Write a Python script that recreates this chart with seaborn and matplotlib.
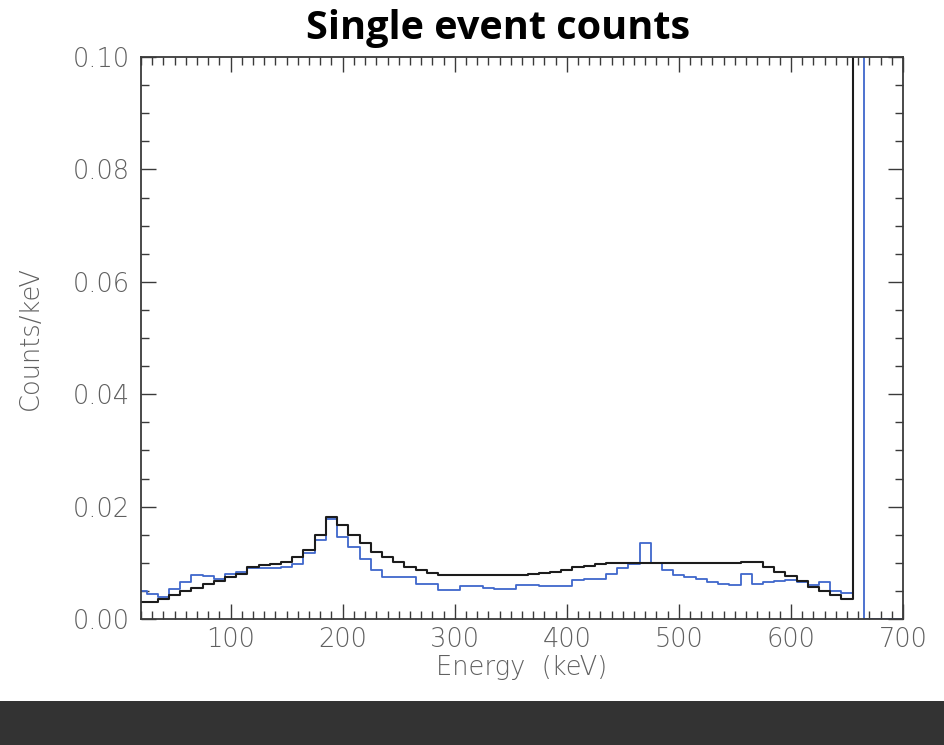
import numpy as np
import pandas as pd
import matplotlib
matplotlib.use("Agg")
import matplotlib.pyplot as plt
from matplotlib.ticker import MultipleLocator, FormatStrFormatter
from matplotlib.patches import Rectangle
import seaborn as sns

# Spectrum binning (keV): 10 keV bins centred on multiples of 10
bin_width = 10
black_centers = np.arange(20, 661, 10)
blue_centers = np.arange(20, 701, 10)

# Counts/keV per bin, first spectrum (dark curve); the 660 keV bin is off-scale
black_counts = [
    0.0030, 0.0030, 0.0035, 0.0043, 0.0049, 0.0055, 0.0062, 0.0068, 0.0074, 0.0080,
    0.0093, 0.0096, 0.0098, 0.0102, 0.0110, 0.0122, 0.0150, 0.0182, 0.0167, 0.0150,
    0.0135, 0.0120, 0.0110, 0.0101, 0.0093, 0.0087, 0.0081, 0.0078, 0.0078, 0.0078,
    0.0078, 0.0078, 0.0078, 0.0079, 0.0079, 0.0080, 0.0082, 0.0084, 0.0087, 0.0092,
    0.0095, 0.0097, 0.0099, 0.0100, 0.0100, 0.0100, 0.0100, 0.0100, 0.0100, 0.0100,
    0.0100, 0.0100, 0.0100, 0.0100, 0.0101, 0.0101, 0.0093, 0.0084, 0.0077, 0.0068,
    0.0057, 0.0049, 0.0043, 0.0036, 0.2500,
]

# Counts/keV per bin, second spectrum (blue curve)
blue_counts = [
    0.0050, 0.0044, 0.0040, 0.0053, 0.0065, 0.0078, 0.0076, 0.0071, 0.0080, 0.0084,
    0.0091, 0.0090, 0.0090, 0.0093, 0.0098, 0.0118, 0.0140, 0.0178, 0.0146, 0.0128,
    0.0106, 0.0088, 0.0075, 0.0075, 0.0074, 0.0063, 0.0063, 0.0052, 0.0052, 0.0059,
    0.0059, 0.0056, 0.0054, 0.0054, 0.0061, 0.0061, 0.0059, 0.0059, 0.0059, 0.0069,
    0.0072, 0.0072, 0.0080, 0.0090, 0.0097, 0.0135, 0.0100, 0.0087, 0.0078, 0.0075,
    0.0071, 0.0066, 0.0062, 0.0061, 0.0080, 0.0063, 0.0065, 0.0068, 0.0069, 0.0066,
    0.0061, 0.0065, 0.0050, 0.0047, 0.2500, 0.0, 0.0, 0.0, 0.0,
]

x_range = (20, 700)
y_range = (0.0, 0.10)
x_ticks = [100, 200, 300, 400, 500, 600, 700]
y_ticks = [0.00, 0.02, 0.04, 0.06, 0.08, 0.10]

title = "Single event counts"
x_label = "Energy  (keV)"
y_label = "Counts/keV"


def step_frame(centers, counts):
    """Left bin edges with their heights, for a steps-post outline."""
    centers = np.asarray(centers, dtype=float)
    counts = np.asarray(counts, dtype=float)
    left = centers - bin_width / 2
    edges = np.append(left, left[-1] + bin_width)
    heights = np.append(counts, counts[-1])
    return pd.DataFrame({"energy": edges, "counts": heights})


black_df = step_frame(black_centers, black_counts)
# the blue spectrum drops back to zero after its last bin
blue_df = step_frame(blue_centers, blue_counts)

sns.set_theme(style="white")
plt.rcParams["font.family"] = ["DejaVu Sans"]

fig = plt.figure(figsize=(9.45, 7.45), dpi=100)
fig.patch.set_facecolor("white")
ax = fig.add_axes([141 / 945, 1 - 619 / 745, 762 / 945, 562 / 745])

sns.lineplot(data=blue_df, x="energy", y="counts", ax=ax, color="#3f67cc",
             linewidth=1.3, drawstyle="steps-post", estimator=None, sort=False)
sns.lineplot(data=black_df, x="energy", y="counts", ax=ax, color="#1c1c1c",
             linewidth=1.5, drawstyle="steps-post", estimator=None, sort=False)

ax.set_xlim(*x_range)
ax.set_ylim(*y_range)
ax.set_xticks(x_ticks)
ax.set_yticks(y_ticks)
ax.xaxis.set_minor_locator(MultipleLocator(10))
ax.yaxis.set_minor_locator(MultipleLocator(0.005))
ax.yaxis.set_major_formatter(FormatStrFormatter("%.2f"))
ax.set_xlabel("")
ax.set_ylabel("")

for side in ax.spines.values():
    side.set_color("#3a3a3a")
    side.set_linewidth(1.3)
    side.set_visible(True)

ax.tick_params(which="both", direction="in", top=True, right=True,
               bottom=True, left=True, color="#3a3a3a", width=1.0)
ax.tick_params(which="major", length=11)
ax.tick_params(which="minor", length=5.5)
ax.tick_params(axis="both", which="major", labelsize=18.5, labelcolor="#606060")
ax.tick_params(axis="x", pad=6)
ax.tick_params(axis="y", pad=8)
for lab in ax.get_xticklabels() + ax.get_yticklabels():
    lab.set_fontweight("light")

fig.text(0.032, (1 - 338 / 745), y_label, rotation=90, ha="center", va="center",
         fontsize=18.5, color="#606060", fontweight="light")
fig.text(522 / 945, 1 - 668 / 745, x_label, ha="center", va="center",
         fontsize=18.5, color="#606060", fontweight="light")
fig.text(498 / 945, 1 - 28 / 745, title, ha="center", va="center",
         fontsize=28.5, fontweight="bold", family=["Open Sans", "DejaVu Sans"],
         color="black")

# dark strip along the bottom edge
fig.patches.append(Rectangle((0, 0), 1, 44 / 745, transform=fig.transFigure,
                             facecolor="#333333", edgecolor="none", zorder=0))

fig.savefig("out.png", dpi=100, facecolor="white")
